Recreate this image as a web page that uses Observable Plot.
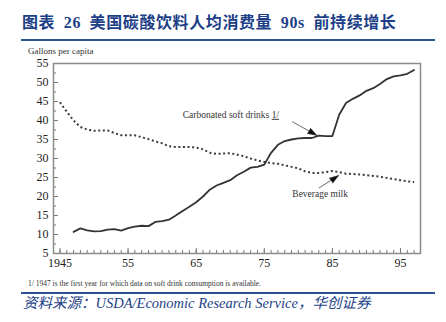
<!DOCTYPE html>
<html>
<head>
<meta charset="utf-8">
<script src="https://cdn.jsdelivr.net/npm/d3@7"></script>
<script src="https://cdn.jsdelivr.net/npm/@observablehq/plot@0.6"></script>
<style>
  html, body { margin: 0; padding: 0; background: #fff; }
  #wrap { position: relative; width: 446px; height: 322px; overflow: hidden; background: #fff; }
  .abs { position: absolute; white-space: nowrap; }
  #title { left: 22px; top: 13px; font: bold 16px "Liberation Serif", "Noto Sans CJK SC", serif; color: #1d3f87; line-height: 20px; letter-spacing: 0.6px; word-spacing: 4px; }
  .rule { left: 21px; width: 414px; height: 2px; background: #2d4f93; }
  #ylab { left: 28px; top: 46px; font: 9px "Liberation Serif", serif; color: #333; line-height: 11px; }
  #note { left: 28px; top: 279px; font: 7.5px "Liberation Serif", serif; color: #333; line-height: 9px; }
  #source { left: 23px; top: 294px; font: italic 14.5px "Liberation Serif", "Noto Sans CJK SC", serif; color: #1d3f87; line-height: 18px; }
  #chart { left: 0; top: 56px; }
</style>
</head>
<body>
<div id="wrap">
  <div id="title" class="abs">图表 26 美国碳酸饮料人均消费量 90s 前持续增长</div>
  <div class="abs rule" style="top:39px"></div>
  <div id="ylab" class="abs">Gallons per capita</div>
  <div id="chart" class="abs"></div>
  <div id="note" class="abs">1/ 1947 is the first year for which data on soft drink consumption is available.</div>
  <div class="abs rule" style="top:292px"></div>
  <div id="source" class="abs">资料来源：USDA/Economic Research Service，华创证券</div>
</div>
<script>
// ---- data (gallons per capita) ----
const softYears = d3.range(1947, 1998);
const softValues = [
  10.7, 11.6, 11.1, 10.8, 10.9, 11.3, 11.4, 11.0, 11.7, 12.1,
  12.3, 12.2, 13.3, 13.5, 13.9, 15.0, 16.2, 17.3, 18.5, 20.0,
  21.8, 22.9, 23.6, 24.3, 25.6, 26.5, 27.6, 27.8, 28.4, 31.5,
  33.6, 34.6, 35.0, 35.3, 35.4, 35.4, 36.0, 35.9, 35.9, 41.5,
  44.6, 45.7, 46.6, 47.8, 48.5, 49.6, 50.9, 51.6, 51.9, 52.3,
  53.3
];
const milkYears = d3.range(1945, 1998);
const milkValues = [
  44.8, 42.3, 40.0, 38.3, 37.6, 37.3, 37.4, 37.4, 36.7, 36.1,
  36.1, 36.1, 35.6, 35.1, 34.5, 34.0, 33.2, 33.0, 33.0, 33.0,
  32.9, 32.4, 31.5, 31.2, 31.3, 31.4, 31.0, 30.6, 30.0, 29.5,
  29.1, 28.8, 28.6, 28.2, 27.8, 27.4, 26.6, 26.2, 26.2, 26.4,
  26.7, 26.4, 26.0, 25.9, 25.8, 25.6, 25.4, 25.2, 24.9, 24.6,
  24.3, 24.0, 23.8
];
const xTickValues = [1945, 1955, 1965, 1975, 1985, 1995];
const xTickLabels = ["1945", "55", "65", "75", "85", "95"];
const yTickValues = [5, 10, 15, 20, 25, 30, 35, 40, 45, 50, 55];

// annotations (data coordinates)
const annoLabels = ["Carbonated soft drinks 1/", "Beverage milk"];
const annoTextX = [1970.1, 1983.2];
const annoTextY = [41.5, 20.6];
const annoTailX = [1979.1, 1983.0];
const annoTailY = [39.7, 22.2];
const annoTipX = [1982.7, 1985.9];
const annoTipY = [36.1, 25.5];

// ---- tables ----
const soft = softYears.map((y, i) => ({year: y, value: softValues[i]}));
const milk = milkYears.map((y, i) => ({year: y, value: milkValues[i]}));
const anno = annoLabels.map((t, i) => ({
  label: t, tx: annoTextX[i], ty: annoTextY[i],
  x1: annoTailX[i], y1: annoTailY[i], x2: annoTipX[i], y2: annoTipY[i]
}));
const minorX = d3.range(1945, 1998);
const minorY = d3.range(5, 55.01, 2.5);

const headRotate = [120, 56];

const plot = Plot.plot({
  width: 446,
  height: 220,
  marginTop: 7,
  marginBottom: 23,
  marginLeft: 53,
  marginRight: 26,
  style: {fontFamily: "Liberation Serif, serif", fontSize: "12px", color: "#222", background: "transparent"},
  x: {domain: [1944.05, 1997.94], label: null},
  y: {domain: [5, 55], label: null},
  marks: [
    Plot.axisX(minorX, {tickSize: -3, text: null, stroke: "#777"}),
    Plot.axisX(xTickValues, {tickSize: -5, text: null, stroke: "#777"}),
    Plot.axisX(xTickValues, {tickSize: 0, tickPadding: 5, tickFormat: (d, i) => xTickLabels[i], fill: "#222"}),
    Plot.axisY(minorY, {tickSize: -3, text: null, stroke: "#777"}),
    Plot.axisY(yTickValues, {tickSize: -5, text: null, stroke: "#777"}),
    Plot.axisY(yTickValues, {tickSize: 0, tickPadding: 5, fill: "#222"}),
    Plot.frame({stroke: "#8c8c8c", strokeWidth: 1.5}),
    Plot.line(milk, {x: "year", y: "value", stroke: "#3a3a3a", strokeWidth: 2, strokeDasharray: "2,2.6", strokeLinecap: "butt"}),
    Plot.line(soft, {x: "year", y: "value", stroke: "#333", strokeWidth: 1.8}),
    Plot.link(anno, {x1: "x1", y1: "y1", x2: "x2", y2: "y2", stroke: "#444", strokeWidth: 0.8}),
    Plot.vector(anno, {x: "x2", y: "y2", rotate: (d, i) => headRotate[i], length: 9, r: 3, shape: "spike", anchor: "end", fill: "#111", stroke: "#111", strokeWidth: 0.5}),
    Plot.text(anno, {x: "tx", y: "ty", text: "label", textAnchor: (d, i) => i === 0 ? "start" : "middle", fontSize: 9.5, fill: "#333"})
  ]
});
document.getElementById("chart").appendChild(plot);

// underline "1/" in the soft-drink label
plot.querySelectorAll("text").forEach(t => {
  if (t.textContent === "Carbonated soft drinks 1/") {
    t.textContent = "Carbonated soft drinks ";
    const ts = document.createElementNS("http://www.w3.org/2000/svg", "tspan");
    ts.textContent = "1/";
    ts.setAttribute("text-decoration", "underline");
    t.appendChild(ts);
  }
});
</script>
</body>
</html>
